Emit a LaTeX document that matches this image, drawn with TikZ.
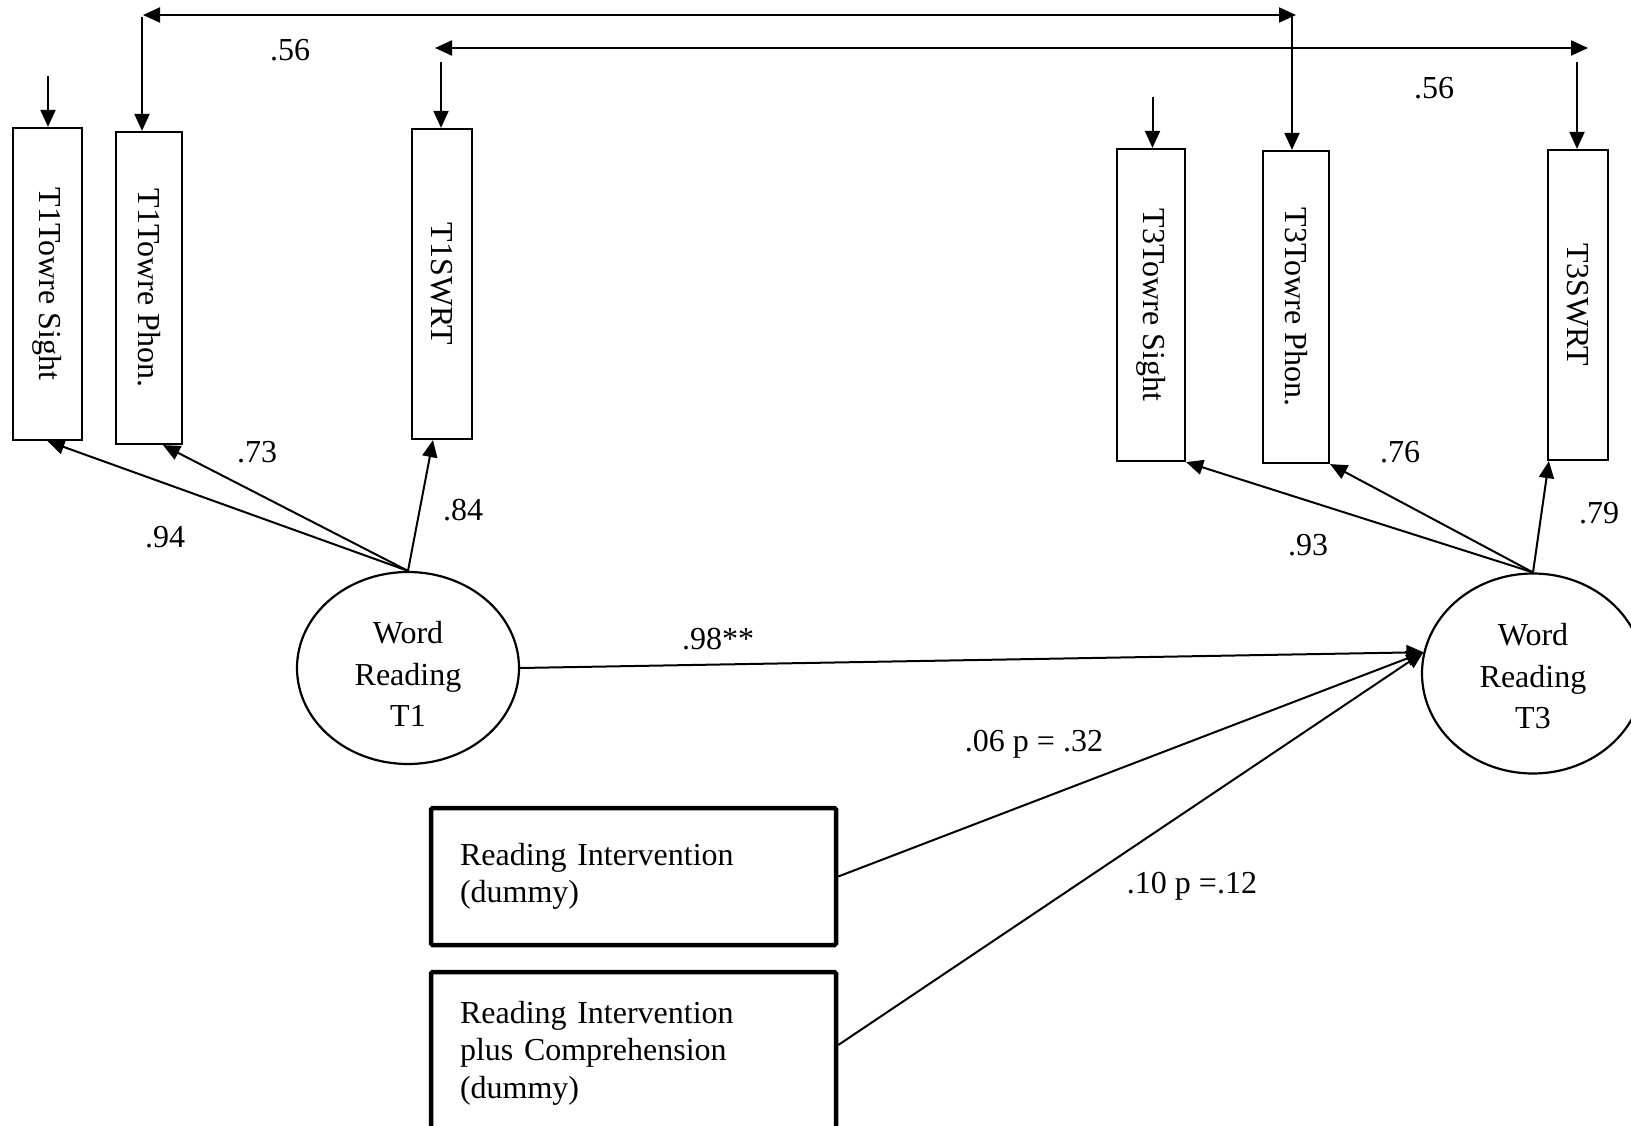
\documentclass[tikz,border=0pt]{standalone}
\usepackage{fontspec}
\setmainfont{Liberation Serif}
\usetikzlibrary{arrows.meta,shapes.geometric}
\begin{document}
\begin{tikzpicture}[x=1pt,y=-1pt,
  every node/.style={font=\fontsize{32}{37.5}\selectfont},
  ind/.style={draw, line width=2.2pt, inner sep=0pt},
  lat/.style={ellipse, draw, line width=2.2pt, inner sep=0pt, align=center,
    minimum width=222pt, font=\fontsize{32}{41.5}\selectfont},
  dum/.style={draw, line width=4.5pt, rounded corners=1.5pt, align=left,
    text width=347pt, inner xsep=29pt, inner ysep=0pt},
  path/.style={line width=2pt, -{Triangle[length=17pt,width=15pt]}},
  cov/.style={line width=2pt, {Triangle[length=17pt,width=15pt]}-{Triangle[length=17pt,width=15pt]}},
  coef/.style={inner sep=0pt}
]
\clip (0,0) rectangle (1631,1126);

% observed indicators, time 1
\node[ind, minimum width=69pt, minimum height=312pt] (s1) at (47.5,284) {\rotatebox{-90}{T1Towre Sight}};
\node[ind, minimum width=66pt, minimum height=312pt] (p1) at (149,288) {\rotatebox{-90}{T1Towre Phon.}};
\node[ind, minimum width=60pt, minimum height=310pt] (w1) at (442,284) {\rotatebox{-90}{T1SWRT}};

% observed indicators, time 3
\node[ind, minimum width=68pt, minimum height=312pt] (s3) at (1151,305) {\rotatebox{-90}{T3Towre Sight}};
\node[ind, minimum width=66pt, minimum height=312pt] (p3) at (1296,307) {\rotatebox{-90}{T3Towre Phon.}};
\node[ind, minimum width=60pt, minimum height=310pt] (w3) at (1578,305) {\rotatebox{-90}{T3SWRT}};

% latent factors
\node[lat, minimum height=192pt] (wr1) at (408,668) {\rule{0pt}{34pt}Word\\Reading\\T1};
\node[lat, minimum height=200pt] (wr3) at (1533,673.5) {\rule{0pt}{28pt}Word\\Reading\\T3};

% group dummies
\node[dum, minimum height=137pt] (ri) at (633.5,876.5) {Reading Intervention\\(dummy)};
\node[dum, minimum height=162pt] (rc) at (633.5,1053) {Reading Intervention\\plus Comprehension\\(dummy)};

% factor loadings
\draw[path] (wr1.north) -- (s1.south);
\draw[path] (wr1.north) -- ([xshift=14pt]p1.south);
\draw[path] (wr1.north) -- ([xshift=-9pt]w1.south);
\draw[path] (wr3.north) -- (s3.south east);
\draw[path] (wr3.north) -- (p3.south east);
\draw[path] (wr3.north) -- ([xshift=2pt]w3.south west);

% structural paths
\draw[path] (wr1.east) -- (wr3.169);
\draw[path] (ri.east) -- (wr3.169);
\draw[path] ([yshift=8pt]rc.east) -- (wr3.169);

% residual arrows
\coordinate (e1) at (48,76);
\coordinate (e3) at (1152.5,97);
\draw[path] (e1) -- (e1 |- s1.north);
\draw[path] (e3) -- (e3 |- s3.north);

% correlated residuals
\coordinate (cA) at (143,15);
\coordinate (cB) at (1296,15);
\coordinate (cA1) at (142,17);
\coordinate (cB1) at (1292,15);
\draw[cov] (cA) -- (cB);
\draw[path] (cA1) -- (cA1 |- p1.north);
\draw[path] (cB1) -- (cB1 |- p3.north);

\coordinate (cC) at (435,48);
\coordinate (cD) at (1588,48);
\coordinate (cC1) at (441,62);
\coordinate (cD1) at (1577,62);
\draw[cov] (cC) -- (cD);
\draw[path] (cC1) -- (cC1 |- w1.north);
\draw[path] (cD1) -- (cD1 |- w3.north);

% coefficients
\node[coef] (k56a) at (290,50) {.56};
\node[coef] (k56b) at (1434,88) {.56};
\node[coef] (k73) at (257,452) {.73};
\node[coef] (k94) at (165,537) {.94};
\node[coef] (k84) at (463,510) {.84};
\node[coef] (k76) at (1400,452) {.76};
\node[coef] (k93) at (1308,545) {.93};
\node[coef] (k79) at (1599,513) {.79};
\node[coef] (k98) at (718,639) {.98**};
\node[coef] (k06) at (1034,744) {.06 p = .32};
\node[coef] (k10) at (1192,886) {.10 p =.12};
\end{tikzpicture}
\end{document}
